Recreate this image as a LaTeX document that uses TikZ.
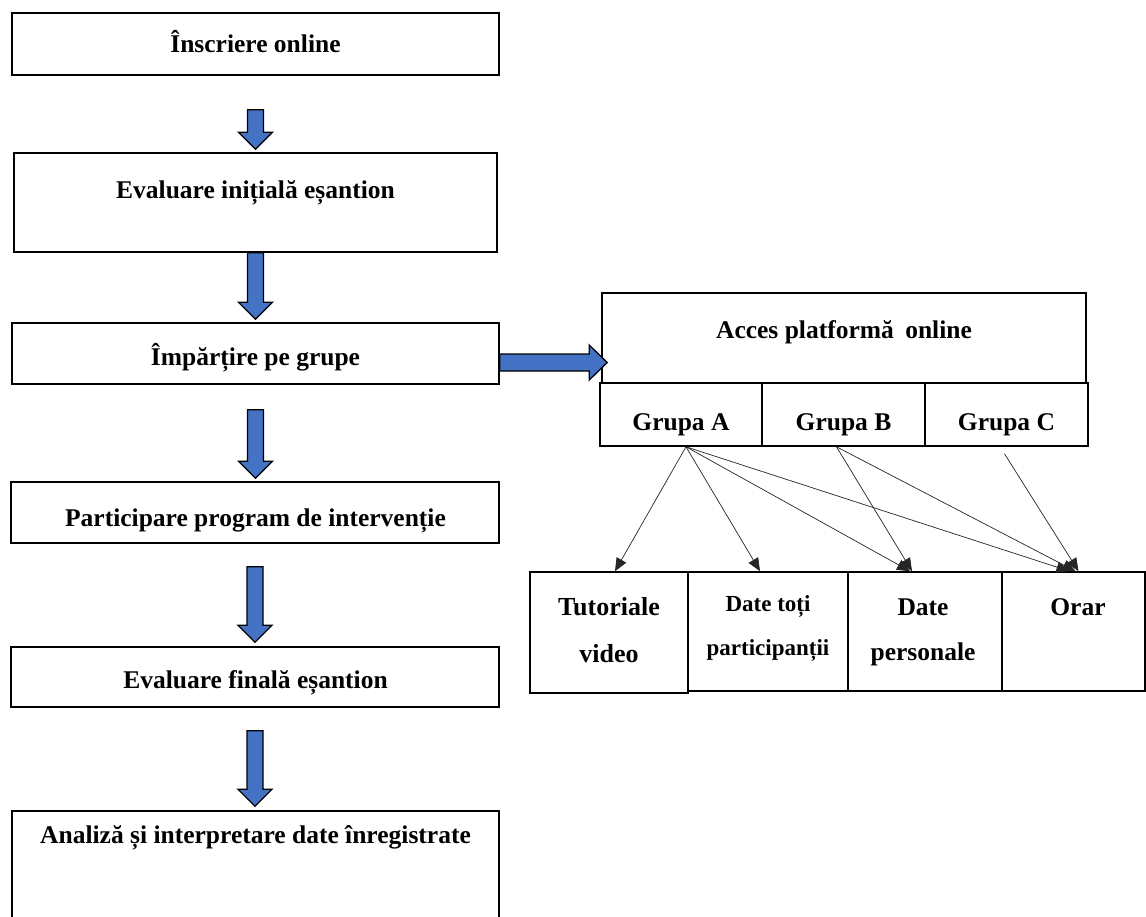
\documentclass[tikz,border=0pt]{standalone}
\usepackage{fontspec}
\setmainfont{Liberation Serif}
\usetikzlibrary{arrows.meta,calc}
\definecolor{arrowblue}{RGB}{68,114,196}
\newcommand\vblk[4]{%
  \draw[blk] let \p1=($(#1.south)+(0,#3)$), \p2=($(#2.north)-(0,#4)$) in
    (\x1-8pt,\y1) -- (\x1+8pt,\y1) -- (\x1+8pt,\y2+17pt) -- (\x1+17pt,\y2+17pt)
    -- (\x1,\y2) -- (\x1-17pt,\y2+17pt) -- (\x1-8pt,\y2+17pt) -- cycle;}
\begin{document}
\begin{tikzpicture}[x=1pt,y=-1pt,
  box/.style={draw=black, line width=1.6pt, inner sep=0pt},
  lbl/.style={font=\fontsize{25.5}{30}\selectfont\bfseries, inner sep=0pt, anchor=base},
  blbl/.style={font=\fontsize{26}{30}\selectfont\bfseries, inner sep=0pt, anchor=base},
  slbl/.style={font=\fontsize{23}{28}\selectfont\bfseries, inner sep=0pt, anchor=base},
  blk/.style={draw=black, line width=1.3pt, fill=arrowblue, line join=miter},
  conn/.style={draw=black!85, line width=0.7pt, -{Triangle[length=13pt,width=11pt]}}]
\useasboundingbox (0,0) rectangle (1146,916);
\clip (0,0) rectangle (1146,916);
\fill[white] (0,0) rectangle (1146,916);

% left column boxes
\node[box, minimum width=487, minimum height=62] (b1) at (255.5,44) {};
\node[box, minimum width=483, minimum height=99] (b2) at (255.5,202.5) {};
\node[box, minimum width=487, minimum height=61] (b3) at (255.5,353.5) {};
\node[box, minimum width=488, minimum height=61] (b4) at (255,512.5) {};
\node[box, minimum width=488, minimum height=60] (b5) at (255,677) {};
\node[box, minimum width=487, minimum height=124] (b6) at (255.5,873) {};

\node[lbl] (t1) at (255.5,52) {Înscriere online};
\node[lbl] (t2) at (255.5,198) {Evaluare inițială eșantion};
\node[lbl] (t3) at (255.5,365) {Împărțire pe grupe};
\node[lbl] (t4) at (255.5,526) {Participare program de intervenție};
\node[lbl] (t5) at (255.5,688) {Evaluare finală eșantion};
\node[lbl] (t6) at (255.5,843) {Analiză și interpretare date înregistrate};

% block arrows
\vblk{b1}{b2}{34}{3}
\vblk{b2}{b3}{0}{3}
\vblk{b3}{b4}{25}{3}
\vblk{b4}{b5}{23}{4}
\vblk{b5}{b6}{23}{4}

% right part
\node[box, minimum width=484, minimum height=90] (acc) at (844,338) {};
\node[lbl] (tacc) at (844,338) {Acces platformă\hspace{0.45em}online};
\node[box, minimum width=162, minimum height=63] (ga) at (681,414.5) {};
\node[box, minimum width=163, minimum height=63] (gb) at (843.5,414.5) {};
\node[box, minimum width=163, minimum height=63] (gc) at (1006.5,414.5) {};
\node[lbl] (tga) at (681,430) {Grupa A};
\node[lbl] (tgb) at (843.5,430) {Grupa B};
\node[lbl] (tgc) at (1006.5,430) {Grupa C};

\draw[blk] let \p1=(b3.east), \p2=(acc.west) in
  (\x1,-354pt) -- (\x2-12pt,-354pt) -- (\x2-12pt,-345pt) -- (\x2+6pt,-362.5pt)
  -- (\x2-12pt,-380pt) -- (\x2-12pt,-371pt) -- (\x1,-371pt) -- cycle;

% bottom boxes
\node[box, minimum width=158, minimum height=121] (tv) at (609,632.5) {};
\node[box, minimum width=160, minimum height=119] (d1) at (768,631.5) {};
\node[box, minimum width=154, minimum height=119] (d2) at (925,631.5) {};
\node[box, minimum width=143, minimum height=119] (or) at (1073.5,631.5) {};

\node[blbl] (tv1) at (609,615) {Tutoriale};
\node[blbl] (tv2) at (609,662) {video};
\node[slbl] (d11) at (768,611) {Date toți};
\node[slbl] (d12) at (768,655) {participanții};
\node[lbl] (d21) at (923,615) {Date};
\node[lbl] (d22) at (923,660) {personale};
\node[lbl] (or1) at (1078,615) {Orar};

% thin connectors
\draw[conn] ([xshift=5pt]ga.south) -- ([xshift=6pt]tv.north);
\draw[conn] ([xshift=5pt]ga.south) -- ([xshift=-8pt]d1.north);
\draw[conn] ([xshift=5pt]ga.south) -- ([xshift=-15pt]d2.north);
\draw[conn] ([xshift=5pt]ga.south) -- ([xshift=-4pt]or.north);
\draw[conn] ([xshift=-7pt]gb.south) -- ([xshift=-13pt]d2.north);
\draw[conn] ([xshift=-7pt]gb.south) -- ([xshift=2pt]or.north);
\draw[conn] ([xshift=-2pt,yshift=-7pt]gc.south) -- ([xshift=5pt]or.north);
\end{tikzpicture}
\end{document}
